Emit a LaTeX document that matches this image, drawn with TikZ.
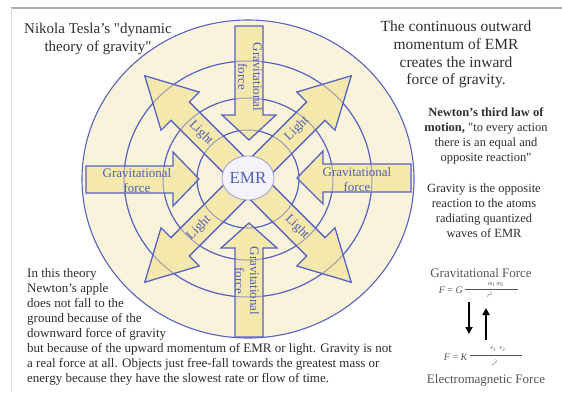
\documentclass[tikz,border=0pt]{standalone}
\usepackage{fontspec}
\setmainfont{Liberation Serif}
\usetikzlibrary{arrows.meta,shapes.geometric}
\definecolor{cream}{HTML}{FAF3DC}
\definecolor{arrowfill}{HTML}{F5E7A5}
\definecolor{ringblue}{HTML}{5563C1}
\definecolor{labelblue}{HTML}{5060B4}
\definecolor{inktext}{HTML}{2E2E2E}
\definecolor{graytext}{HTML}{555555}
\definecolor{emrfill}{HTML}{F5F3FA}
\definecolor{emrline}{HTML}{9A9CDA}
\begin{document}
\begin{tikzpicture}[x=1pt,y=-1pt,
  ring/.style={draw=ringblue, line width=1.1pt},
  ringover/.style={draw=ringblue, line width=1.0pt, draw opacity=0.45},
  bigarrow/.style={fill=arrowfill, fill opacity=0.85, draw=ringblue, line width=1.3pt, line join=miter},
  arrowlabel/.style={text=labelblue, font=\fontsize{13}{15}\selectfont, align=center, inner sep=0pt},
  titletext/.style={text=inktext, font=\fontsize{15}{18}\selectfont, align=center, inner sep=0pt},
  momtext/.style={text=inktext, font=\fontsize{15.5}{17.7}\selectfont, align=center, inner sep=0pt},
  sidetext/.style={text=inktext, font=\fontsize{12.5}{15}\selectfont, align=center, inner sep=0pt},
  bodytext/.style={text=inktext, font=\fontsize{13}{15}\selectfont, align=left, inner sep=0pt},
  forcetext/.style={text=graytext, font=\fontsize{13}{15}\selectfont, inner sep=0pt},
  formtext/.style={text=graytext, font=\fontsize{10}{12}\selectfont, inner sep=0pt},
  smallform/.style={text=graytext, font=\fontsize{6}{7}\selectfont, inner sep=0pt},
  fbar/.style={draw=graytext, line width=0.5pt},
  blackarrow/.style={-{Triangle[length=7pt,width=7pt]}, line width=2.2pt, black}
]
\useasboundingbox (0,0) rectangle (562,392);
\fill[white] (0,0) rectangle (562,392);
\draw[gray!65, line width=1.6pt] (11,8) -- (562,8);
\draw[gray!25, line width=0.8pt] (11,8) -- (11,392);

% rings
\draw[ring, fill=cream] (248,179) ellipse [x radius=166pt, y radius=159pt];
\draw[ring] (248,179) ellipse [x radius=124pt, y radius=118pt];
\draw[ring] (248,179) ellipse [x radius=85pt, y radius=81pt];
\draw[ring] (248,179) ellipse [x radius=51pt, y radius=49pt];

% light arrows
\foreach \ang in {45,135,225,315}{
  \begin{scope}[shift={(248,179)}, rotate=\ang]
    \draw[bigarrow] (0,-13) -- (96,-13) -- (96,-27) -- (146,0) -- (96,27) -- (96,13) -- (0,13) -- cycle;
  \end{scope}
}
% gravitational arrows
\draw[bigarrow] (235,26) -- (263,26) -- (263,115) -- (276,115) -- (249,140) -- (222,115) -- (235,115) -- cycle;
\draw[bigarrow] (235,337) -- (263,337) -- (263,248) -- (277,248) -- (249,223) -- (221,248) -- (235,248) -- cycle;
\draw[bigarrow] (86,166) -- (86,193) -- (173,193) -- (173,206) -- (199,179) -- (173,152) -- (173,166) -- cycle;
\draw[bigarrow] (411,164) -- (411,192) -- (323,192) -- (323,204) -- (297,178) -- (323,151) -- (323,164) -- cycle;

% arrow labels
\node[arrowlabel, rotate=-90] (gtop) at (250,77) {Gravitational\\force};
\node[arrowlabel, rotate=-90] (gbot) at (247,281) {Gravitational\\force};
\node[arrowlabel] (gleft) at (137,181) {Gravitational\\force};
\node[arrowlabel] (gright) at (357,180) {Gravitational\\force};
\node[arrowlabel, rotate=-45] (lnw) at (201,133) {Light};
\node[arrowlabel, rotate=45] (lne) at (297,129) {Light};
\node[arrowlabel, rotate=45] (lsw) at (199,228) {Light};
\node[arrowlabel, rotate=-45] (lse) at (297,227) {Light};

% rings over arrows (faint)
\draw[ringover] (248,179) ellipse [x radius=124pt, y radius=118pt];
\draw[ringover] (248,179) ellipse [x radius=85pt, y radius=81pt];
\draw[ringover] (248,179) ellipse [x radius=51pt, y radius=49pt];

% EMR
\node[ellipse, fill=emrfill, draw=emrline, line width=0.8pt, minimum width=48pt, minimum height=44pt, inner sep=0pt, text=labelblue, font=\fontsize{17}{19}\selectfont] (emr) at (248,178) {EMR};

% texts
\node[titletext] (title) at (98,39) {Nikola Tesla's \textquotedbl dynamic\\theory of gravity\textquotedbl};
\node[momtext] (momentum) at (456,54.5) {The continuous outward\\momentum of EMR\\creates the inward\\force of gravity.};
\node[sidetext] (newton) at (486,135.5) {\textbf{Newton's third law of}\\\textbf{motion,} \textquotedbl to every action\\there is an equal and\\opposite reaction\textquotedbl};
\node[sidetext] (opposite) at (484,210.5) {Gravity is the opposite\\reaction to the atoms\\radiating quantized\\waves of EMR};
\node[bodytext, anchor=north west] (apple) at (27,268.6) {In this theory\\Newton's apple\\does not fall to the\\ground because of the\\downward force of gravity\\but because of the upward momentum of EMR or light. Gravity is not\\a real force at all. Objects just free-fall towards the greatest mass or\\energy because they have the slowest rate or flow of time.};

% formulas
\node[forcetext] (gforce) at (481,273) {Gravitational Force};
\node[formtext, anchor=east] (f1) at (463,290) {\textit{F} = \textit{G}};
\coordinate (b1l) at (465,289);
\coordinate (b1r) at (518,289);
\draw[fbar] (b1l) -- (b1r);
\node[smallform] (f1n) at (496,284.5) {\textit{m}\textsubscript{1}\,\textit{m}\textsubscript{2}};
\node[smallform] (f1d) at (490,295) {\textit{r}\textsuperscript{2}};
\coordinate (da) at (469,302);
\coordinate (db) at (469,334);
\coordinate (ua) at (486,340);
\coordinate (ub) at (486,308);
\draw[blackarrow] (da) -- (db);
\draw[blackarrow] (ua) -- (ub);
\node[formtext, anchor=east] (f2) at (468,357) {\textit{F} = \textit{K}};
\coordinate (b2l) at (470,355);
\coordinate (b2r) at (522,355);
\draw[fbar] (b2l) -- (b2r);
\node[smallform] (f2n) at (498,349) {\textit{e}\textsubscript{1}\;\;\textit{e}\textsubscript{2}};
\node[smallform] (f2d) at (495,363.5) {\textit{r}\textsuperscript{2}};
\node[forcetext] (eforce) at (486,380) {Electromagnetic Force};
\end{tikzpicture}
\end{document}
